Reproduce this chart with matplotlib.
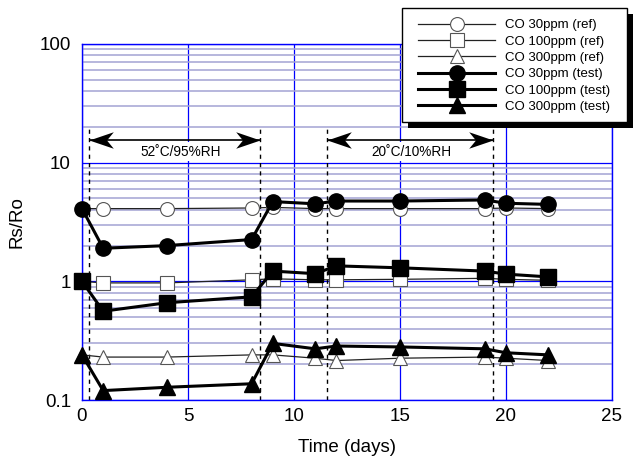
import numpy as np
import matplotlib
matplotlib.use("Agg")
import matplotlib.pyplot as plt
from matplotlib.patches import Rectangle
from matplotlib.path import Path
from matplotlib.ticker import FixedLocator, FixedFormatter, NullFormatter

plt.rcParams["font.family"] = ["Liberation Sans", "DejaVu Sans"]

# ── data ─────────────────────────────────────────────────────────────────
days = [0, 1, 4, 8, 9, 11, 12, 15, 19, 20, 22]

co30_ref   = [4.1, 4.1, 4.1, 4.15, 4.2, 4.1, 4.1, 4.1, 4.1, 4.15, 4.1]
co100_ref  = [1.0, 0.97, 0.97, 1.03, 1.05, 1.03, 1.03, 1.04, 1.06, 1.04, 1.02]
co300_ref  = [0.24, 0.23, 0.23, 0.24, 0.24, 0.225, 0.215, 0.225, 0.23, 0.225, 0.215]

co30_test  = [4.1, 1.9, 2.0, 2.25, 4.7, 4.5, 4.75, 4.75, 4.85, 4.55, 4.45]
co100_test = [1.0, 0.56, 0.66, 0.74, 1.22, 1.16, 1.35, 1.30, 1.22, 1.15, 1.09]
co300_test = [0.24, 0.12, 0.128, 0.137, 0.30, 0.27, 0.285, 0.28, 0.27, 0.25, 0.24]

periods      = [(0.33, 8.4), (11.57, 19.4)]
period_texts = ["52˚C/95%RH", "20˚C/10%RH"]
period_textx = [4.65, 15.55]

x_ticks = [0, 5, 10, 15, 20, 25]
y_ticks = [0.1, 1, 10, 100]
y_tick_labels = ["0.1", "1", "10", "100"]

# notched arrow head, tip at the origin
head = Path([(0, 0), (-1, 0.34), (-0.72, 0), (-1, -0.34), (0, 0)],
            [Path.MOVETO, Path.LINETO, Path.LINETO, Path.LINETO, Path.CLOSEPOLY])
head_left = Path([(0, 0), (1, 0.34), (0.72, 0), (1, -0.34), (0, 0)],
                 [Path.MOVETO, Path.LINETO, Path.LINETO, Path.LINETO, Path.CLOSEPOLY])

# ── figure ───────────────────────────────────────────────────────────────
fig = plt.figure(figsize=(6.33, 4.61), dpi=100)
ax = fig.add_axes([82/633, 1-400/461, (612-82)/633, (400-44)/461])

ax.set_yscale("log")
ax.set_xlim(0, 25)
ax.set_ylim(0.1, 100)

ax.xaxis.set_major_locator(FixedLocator(x_ticks))
ax.yaxis.set_major_locator(FixedLocator(y_ticks))
ax.yaxis.set_major_formatter(FixedFormatter(y_tick_labels))
ax.yaxis.set_minor_locator(FixedLocator(
    [m * 10.0**e for e in range(-1, 2) for m in range(2, 10)]))
ax.yaxis.set_minor_formatter(NullFormatter())
ax.tick_params(which="both", length=0, labelsize=13.5)
ax.tick_params(axis="x", pad=6)
ax.tick_params(axis="y", pad=8)

ax.grid(True, which="major", axis="both", color="#0000ff", lw=0.9)
ax.grid(True, which="minor", axis="y", color="#a3a3d3", lw=1.1)
ax.set_axisbelow(True)
for s in ax.spines.values():
    s.set_color("#0000ff")
    s.set_linewidth(1.0)

# periods: dashed limits, double arrows, labels
for (x0, x1), txt, tx in zip(periods, period_texts, period_textx):
    for xv in (x0, x1):
        ax.plot([xv, xv], [0.1, 20], color="black", lw=1.0,
                ls=(0, (3, 3)), zorder=2)
    ax.plot([x0, x1], [15.6, 15.6], color="black", lw=1.2, zorder=3,
            solid_capstyle="butt")
    ax.plot([x1], [15.6], marker=head, ms=35, color="black", mew=0, zorder=3)
    ax.plot([x0], [15.6], marker=head_left, ms=35, color="black", mew=0, zorder=3)
    ax.text(tx, 12.4, txt, ha="center", va="center", fontsize=9.8,
            bbox=dict(facecolor="white", edgecolor="none", pad=2), zorder=2.5)

# reference (open markers, thin lines)
ref_kw = dict(color="#222222", lw=0.9, mfc="white", mec="#555555", mew=0.8,
              zorder=4, clip_on=False)
ax.plot(days, co30_ref,  marker="o", ms=10, label="CO 30ppm (ref)", **ref_kw)
ax.plot(days, co100_ref, marker="s", ms=10, label="CO 100ppm (ref)", **ref_kw)
ax.plot(days, co300_ref, marker="^", ms=10, label="CO 300ppm (ref)", **ref_kw)

# test (filled markers, thick lines)
test_kw = dict(color="black", lw=2.2, mfc="black", mec="black", zorder=5,
               clip_on=False)
ax.plot(days, co30_test,  marker="o", ms=11, label="CO 30ppm (test)", **test_kw)
ax.plot(days, co100_test, marker="s", ms=11, label="CO 100ppm (test)", **test_kw)
ax.plot(days, co300_test, marker="^", ms=11, label="CO 300ppm (test)", **test_kw)

ax.set_xlabel("Time (days)", fontsize=13.5, labelpad=10)
ax.set_ylabel("Rs/Ro", fontsize=13.5, labelpad=10)

# legend box with heavy drop shadow, drawn in figure pixels
fig.patches.append(Rectangle((402 + 6, 461 - 122 - 6), 225, 114, transform=None,
                             facecolor="black", edgecolor="none", zorder=8))
fig.patches.append(Rectangle((402, 461 - 122), 225, 114, transform=None,
                             facecolor="white", edgecolor="black", lw=1.0,
                             zorder=9))
leg = fig.legend(loc="upper left", bbox_to_anchor=(418/633, 1-19/461),
                 bbox_transform=fig.transFigure, borderaxespad=0,
                 fontsize=9.5, handlelength=5.85, handletextpad=0.75,
                 labelspacing=0.31, borderpad=0, frameon=False)
leg.set_zorder(10)

fig.savefig("out.png", dpi=100)
